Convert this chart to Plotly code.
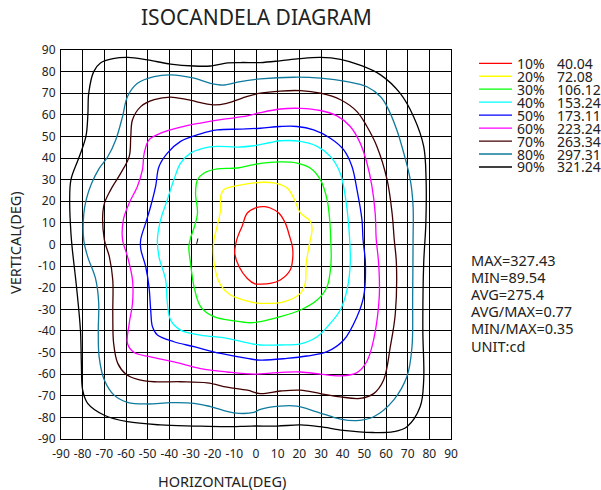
import plotly.graph_objects as go

# ---------------- data (degrees) ----------------
levels = ["10%", "20%", "30%", "40%", "50%", "60%", "70%", "80%", "90%"]
level_values = ["40.04", "72.08", "106.12", "153.24", "173.11", "223.24", "263.34", "297.31", "321.24"]
colors = ["#ff0000", "#ffff00", "#00ff00", "#00ffff", "#0000ff", "#ff00ff", "#400000", "#0f7a9e", "#000000"]

stats = ["MAX=327.43", "MIN=89.54", "AVG=275.4", "AVG/MAX=0.77", "MIN/MAX=0.35", "UNIT:cd"]

axis_ticks = list(range(-90, 91, 10))

iso10 = [(-9.3, 0.5), (-8.3, 4), (-6.4, 8.5), (-4, 14.6), (0.5, 17.2), (4, 17.5), (6.6, 16.9), (10.5, 14.6),
         (13.5, 10), (15.5, 3.8), (16.8, -1), (17, -5.6), (15.8, -11.8), (11.2, -16.4), (6.6, -18), (2, -18.3),
         (-0.5, -18.2), (-4, -15.7), (-7.8, -10.3), (-9.8, -4.1)]
iso20 = [(-19.4, 2.3), (-17.9, 8.5), (-16.3, 16.2), (-16.3, 22.3), (-14.8, 25.4), (-8.7, 27.2), (-1, 28.5),
         (4, 28.8), (8.2, 28.5), (14.3, 26.2), (17.4, 21.5), (20.5, 14.6), (25, 10.8), (25.9, 6.9), (24.8, 1),
         (23.2, -8.7), (22.7, -18), (20.5, -22.6), (12.8, -26.5), (2, -27.2), (-2.6, -26.5), (-11.8, -23.4),
         (-16.3, -18.8), (-19.1, -10.3), (-19.7, -2)]
iso30 = [(-30.2, 3), (-28.5, 8), (-27, 14.6), (-27.9, 23.8), (-27, 30), (-24.1, 33), (-17.9, 35), (-8.7, 35.4),
         (-1, 37), (6.6, 38), (11.2, 38.2), (18.9, 37.7), (25, 35.4), (29.7, 30), (32.8, 20.8), (34, 11.5),
         (34.5, 2.3), (34.6, -8.7), (32.8, -19.5), (28.2, -25.7), (20.5, -30.3), (11.2, -33.4), (2, -35.7),
         (-2.6, -36.2), (-10.2, -35.3), (-19.4, -33.4), (-25.6, -28.7), (-28.6, -19.5), (-30.2, -8.7), (-31, -1)]
iso40 = [(-45.5, 2.3), (-44, 11.5), (-40.9, 20.8), (-37.9, 30), (-34.8, 37.7), (-30.2, 42.3), (-24.1, 44.6),
         (-17.9, 45.4), (-8.7, 45.1), (-1, 45.7), (6.6, 47.2), (11.2, 48), (20.5, 47.7), (28.2, 45.4), (34.3, 40.8),
         (38.9, 33), (41.2, 22.3), (42.8, 8.5), (43.5, -8.7), (42, -21), (38.9, -30.3), (34.3, -36.5),
         (28.2, -42.7), (20.5, -46), (11.2, -46.5), (2, -46.5), (-2.6, -45.8), (-13.3, -43.4), (-25.6, -41.9),
         (-34.8, -39.6), (-39.4, -35), (-40.9, -27.2), (-41.7, -16.4), (-44.8, -5.6)]
iso50 = [(-53.2, 2.3), (-50.9, 10), (-48.6, 17.7), (-46.3, 27), (-44.8, 36), (-40.9, 42.3), (-34.8, 47.7),
         (-25.6, 51.2), (-17.9, 53), (-7.2, 53.4), (2, 53.8), (11.2, 54.6), (18.9, 54.6), (26.6, 53), (34.3, 49.2),
         (40.5, 43.8), (44.3, 36.1), (46.6, 25.4), (48.9, 11.5), (49.4, 2.3), (50.5, -8.7), (49.7, -24),
         (46.6, -33.4), (40.5, -44.2), (32.8, -49.6), (23.5, -51.6), (14.3, -52.7), (2, -53.5), (-4, -52.7),
         (-16.3, -50.4), (-28.6, -47.3), (-37.9, -45), (-45.5, -41.9), (-47.8, -38), (-48.6, -30.3),
         (-49.4, -19.5), (-50.9, -10.3), (-53.2, -2)]
iso60 = [(-61.6, 2.3), (-61.2, 11.5), (-58.5, 19.2), (-54.7, 27), (-52.4, 34.6), (-51.6, 42.3), (-49.3, 48.5),
         (-44, 51.5), (-34.8, 54.3), (-25.6, 56.2), (-14.8, 58), (-4, 59.5), (2, 61), (11.2, 62.7), (20.5, 63),
         (29.7, 62), (37.4, 59.5), (43.5, 54.6), (48.1, 46.9), (51.2, 37.7), (53.5, 27), (55, 14.6), (55.5, 2.3),
         (56.6, -8.7), (56.9, -24), (54.3, -44), (51.2, -54), (46.6, -59.3), (39, -60.8), (29.7, -60),
         (20.5, -59), (9.7, -59.3), (-1, -60), (-13.3, -59), (-25.6, -57.4), (-37.9, -54.3), (-48.6, -52),
         (-56.2, -50), (-59.3, -45.8), (-58.5, -36.5), (-57, -27.2), (-57, -16.4), (-59.3, -5.6)]
iso70 = [(-70, 2.3), (-70.3, 17.7), (-67, 25.4), (-62.4, 33), (-58.5, 40.8), (-57.8, 50), (-57, 57.7),
         (-53.2, 63.8), (-47, 67), (-39.4, 68.2), (-31.7, 67), (-19.4, 64.6), (-13.3, 65.4), (-4, 68.5), (2, 70),
         (11.2, 71), (20.5, 71.2), (29.7, 70), (39, 67), (46.6, 61.5), (51.2, 54.6), (55.8, 45.4), (60.5, 30),
         (62.8, 14.6), (63.8, 2.3), (64.8, -8.7), (64.3, -31.9), (62, -47.3), (58.9, -62.7), (54.3, -69),
         (48, -71.2), (39, -70.5), (29.7, -69), (20.5, -67.4), (11.2, -67.8), (2, -69), (-4, -67.4),
         (-13.3, -66), (-22.5, -64), (-34.8, -63.5), (-47, -63.5), (-54.6, -62.4), (-60, -60), (-63.8, -55),
         (-65.7, -45.8), (-66.1, -31.9), (-66.1, -16.4), (-67.7, -5.6)]
iso80 = [(-79.5, 2), (-79.5, 14), (-78.3, 21), (-76, 28), (-72.5, 35), (-68.5, 40.5), (-64.7, 48.5),
         (-61.6, 59.2), (-59.3, 68.5), (-54.7, 74.6), (-47, 77.7), (-39.4, 78.5), (-28.6, 77), (-21, 74.6),
         (-14.8, 73.8), (-7.2, 75.4), (2, 76.6), (17.4, 77.4), (29.7, 77), (42, 75.4), (51.2, 73), (57.4, 68.5),
         (60.5, 63.8), (65, 53), (68.2, 42.3), (71.2, 30), (72.5, 17.7), (72.5, 2.3), (72.3, -24), (72, -47.3),
         (69.7, -61), (63.5, -72), (54.3, -79.7), (46.5, -81.5), (39, -80.8), (28, -77.4), (18.8, -74.8),
         (11, -74.8), (2, -76.3), (-1, -77.7), (-10.2, -77.9), (-21, -75), (-28.6, -73.5), (-39.4, -73.2),
         (-50.1, -73.8), (-59.3, -73), (-65.5, -69.7), (-70, -62.7), (-72.4, -52), (-72.8, -40), (-72.6, -27),
         (-74, -16), (-77.7, -5.6)]
iso90 = [(-85.4, 5), (-86, 20), (-85.4, 30), (-81.8, 40), (-78.5, 50), (-77.6, 60), (-77.2, 70), (-74.9, 80),
         (-71.8, 84), (-66, 86), (-59, 86.6), (-50, 85.4), (-39.4, 83.5), (-28.7, 82.6), (-21, 82.6), (-13, 84),
         (-7, 84.2), (2, 84.2), (11, 85), (20, 86), (29.7, 86.6), (39, 85.7), (48, 83), (57.5, 78.5), (66.5, 70),
         (72.8, 59), (77.4, 45.4), (78.5, 30), (78.4, 10), (77.4, -8.7), (77, -39.6), (77.4, -62.7), (75.8, -75),
         (69.7, -84.3), (63.5, -86.6), (54, -87), (40.3, -86), (29.5, -84.3), (20.5, -83.5), (9.7, -84), (-2, -84),
         (-14, -84.3), (-28.6, -84), (-44, -83.5), (-59.3, -82), (-70, -79), (-77.7, -73.5), (-80, -67.4),
         (-80.6, -55), (-81, -40), (-82.8, -20), (-84.8, -2)]
stray_mark = [(-27.4, 0.3), (-26.8, 2.8)]

contours = [iso10, iso20, iso30, iso40, iso50, iso60, iso70, iso80, iso90]

# ---------------- figure ----------------
W, H = 601, 490
ML, MR, MT, MB = 61, 150, 50, 51
PW, PH = W - ML - MR, H - MT - MB

def px(x):
    return (x - ML) / PW

def py(y):
    return (H - MB - y) / PH

FONT = "Noto Sans"
TXT = "#222222"

fig = go.Figure()
for pts, col in zip(contours, colors):
    xs = [p[0] for p in pts] + [pts[0][0]]
    ys = [p[1] for p in pts] + [pts[0][1]]
    fig.add_trace(go.Scatter(x=xs, y=ys, mode="lines",
                             line=dict(color=col, width=1.3, shape="spline", smoothing=1.0),
                             hoverinfo="skip", showlegend=False))
fig.add_trace(go.Scatter(x=[p[0] for p in stray_mark], y=[p[1] for p in stray_mark], mode="lines",
                         line=dict(color="#000000", width=1), hoverinfo="skip", showlegend=False))

axis_common = dict(range=[-90, 90], tickmode="array", tickvals=axis_ticks,
                   ticktext=[str(v) for v in axis_ticks], showgrid=True, gridcolor="#000000",
                   gridwidth=1, zeroline=False, showline=True, linecolor="#000000", linewidth=1,
                   mirror=True, ticks="", tickfont=dict(family=FONT, size=12, color=TXT),
                   fixedrange=True)

fig.update_layout(
    width=W, height=H, autosize=False,
    margin=dict(l=ML, r=MR, t=MT, b=MB, pad=0, autoexpand=False),
    paper_bgcolor="white", plot_bgcolor="white",
    xaxis=dict(axis_common, ticklabelstandoff=4),
    yaxis=dict(axis_common, ticklabelstandoff=2),
    showlegend=False,
    font=dict(family=FONT, color=TXT),
)

annotations = []
annotations.append(dict(text="ISOCANDELA DIAGRAM", x=px(256), y=py(17), xref="paper", yref="paper",
                        showarrow=False, xanchor="center", yanchor="middle",
                        font=dict(family=FONT, size=21, color=TXT)))
annotations.append(dict(text="HORIZONTAL(DEG)", x=px(222), y=py(481), xref="paper", yref="paper",
                        showarrow=False, xanchor="center", yanchor="middle",
                        font=dict(family=FONT, size=14.5, color=TXT)))
annotations.append(dict(text="VERTICAL(DEG)", x=px(15), y=py(243), xref="paper", yref="paper",
                        showarrow=False, xanchor="center", yanchor="middle", textangle=-90,
                        font=dict(family=FONT, size=14.5, color=TXT)))

shapes = []
for i, (lab, val, col) in enumerate(zip(levels, level_values, colors)):
    yy = 63.3 + i * 12.96
    shapes.append(dict(type="line", xref="paper", yref="paper", x0=px(479), x1=px(512),
                       y0=py(yy), y1=py(yy), line=dict(color=col, width=1.3)))
    annotations.append(dict(text=lab, x=px(515), y=py(yy), xref="paper", yref="paper", showarrow=False,
                            xanchor="left", yanchor="middle", font=dict(family=FONT, size=14, color=TXT)))
    annotations.append(dict(text=val, x=px(555), y=py(yy), xref="paper", yref="paper", showarrow=False,
                            xanchor="left", yanchor="middle", font=dict(family=FONT, size=14, color=TXT)))

for i, s in enumerate(stats):
    yy = 260 + i * 17.1
    annotations.append(dict(text=s, x=px(469), y=py(yy), xref="paper", yref="paper", showarrow=False,
                            xanchor="left", yanchor="middle", font=dict(family=FONT, size=14.5, color=TXT)))

fig.update_layout(annotations=annotations, shapes=shapes)
fig.write_html("out.html", config={"displayModeBar": False},
               post_script="document.body.style.margin='0';document.body.style.padding='0';")
